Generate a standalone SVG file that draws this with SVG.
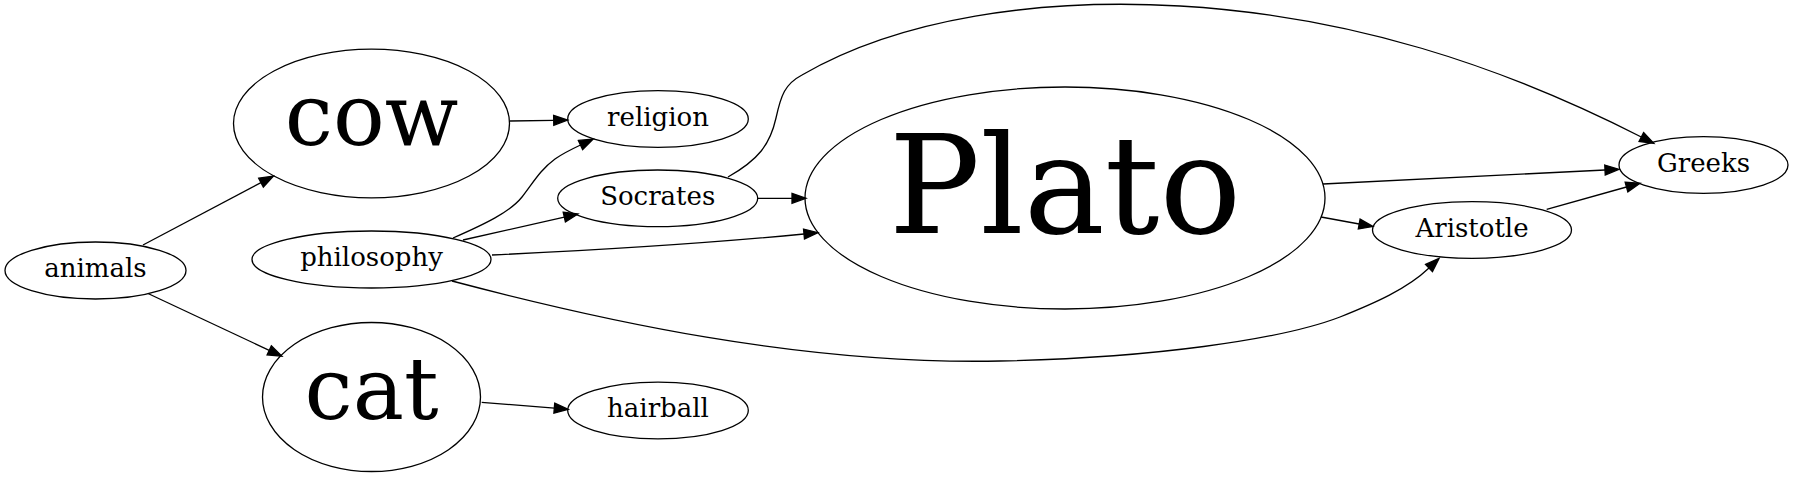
<svg xmlns="http://www.w3.org/2000/svg" width="1793" height="477" viewBox="0 0 1793 477">
<style>
.n ellipse{fill:none;stroke:#000;stroke-width:1.3}
.n text{font-family:"DejaVu Serif","Liberation Serif",serif;text-anchor:middle;fill:#000}
.s{font-size:26px}
.m{font-size:86px}
.l{font-size:136px}
.e path{fill:none;stroke:#000;stroke-width:1.3;marker-end:url(#arr)}
</style>
<defs>
<marker id="arr" markerWidth="16" markerHeight="12" refX="0" refY="5" orient="auto" markerUnits="userSpaceOnUse" overflow="visible">
<polygon points="0,0 14,5 0,10" fill="#000" stroke="#000" stroke-width="1.3"/>
</marker>
</defs>
<rect width="1793" height="477" fill="#fff"/>
<g id="edges" class="e">
<path d="M143,245 L261,182.6"/>
<path d="M148,293.5 L269.2,350.3"/>
<path d="M510,121 L553.7,120.3"/>
<path d="M481.7,402.3 L554.3,408.2"/>
<path d="M453,238 C485,224 510,212 522,197 C533,183 540,170 555,159 C562,154 572,149 580.5,145"/>
<path d="M463,240 L564.3,217.1"/>
<path d="M492,255 C600,250 700,244 804,234"/>
<path d="M452,281 C600,320 800,365 1000,361 C1150,358 1280,340 1340,317 C1375,303 1407,289 1429,268"/>
<path d="M757.7,198.3 L792,198.3"/>
<path d="M728,177 C758,160 770,145 776,118 C781,95 785,84 802,75 C900,18 1040,-2 1180,6 C1350,16 1500,65 1641.3,137"/>
<path d="M1323,184 L1605,170"/>
<path d="M1321,217 L1359.2,224"/>
<path d="M1546.7,209.3 L1626.5,187"/>
</g>
<g id="animals" class="n"><ellipse cx="95.5" cy="270.5" rx="90.5" ry="28.5"/><text class="s" x="95.5" y="277">animals</text></g>
<g id="cow" class="n"><ellipse cx="371.5" cy="123.5" rx="138" ry="74.3"/><text class="m" x="371.5" y="145">cow</text></g>
<g id="philosophy" class="n"><ellipse cx="371.5" cy="259.5" rx="119.5" ry="28.5"/><text class="s" x="371.5" y="266">philosophy</text></g>
<g id="cat" class="n"><ellipse cx="371.5" cy="397" rx="109" ry="74.5"/><text class="m" x="371.5" y="418.5">cat</text></g>
<g id="religion" class="n"><ellipse cx="658" cy="119" rx="90.3" ry="28.3"/><text class="s" x="658" y="125.5">religion</text></g>
<g id="Socrates" class="n"><ellipse cx="657.7" cy="198.3" rx="100" ry="28.3"/><text class="s" x="657.7" y="205">Socrates</text></g>
<g id="hairball" class="n"><ellipse cx="658" cy="410.5" rx="90.3" ry="28.3"/><text class="s" x="658" y="417">hairball</text></g>
<g id="Plato" class="n"><ellipse cx="1065" cy="198" rx="260" ry="111"/><text class="l" x="1065" y="233">Plato</text></g>
<g id="Aristotle" class="n"><ellipse cx="1472" cy="230" rx="99.5" ry="28.3"/><text class="s" x="1472" y="236.7">Aristotle</text></g>
<g id="Greeks" class="n"><ellipse cx="1703.5" cy="165" rx="84.5" ry="28.3"/><text class="s" x="1703.5" y="171.7">Greeks</text></g>
</svg>
